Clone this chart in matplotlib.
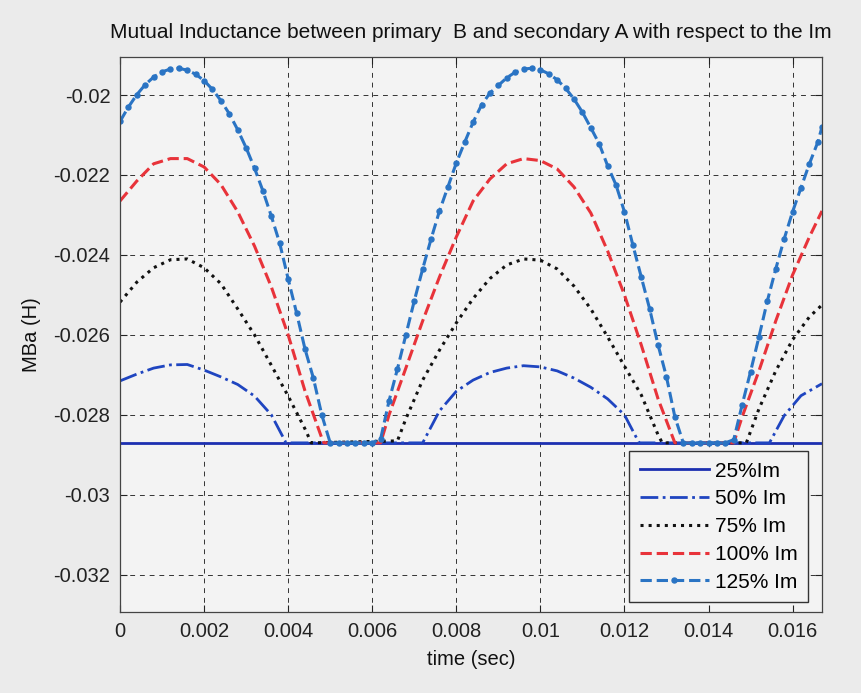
import matplotlib
matplotlib.use("Agg")
import matplotlib.pyplot as plt
from matplotlib.ticker import FixedLocator, FuncFormatter

# ---- data (time in s, inductance in H) ----
floor_level = -0.0287
t_25 = [0.0, 0.0167]
m_25 = [floor_level, floor_level]

t_50 = [0.0, 0.0004, 0.0008, 0.0012, 0.0016, 0.0020, 0.0024, 0.0028, 0.0032, 0.0036, 0.00395,
        0.0072, 0.0076, 0.0080, 0.0084, 0.0088, 0.0092, 0.0096, 0.0100, 0.0104, 0.0108, 0.0112,
        0.0116, 0.0120, 0.01235,
        0.01545, 0.0158, 0.0162, 0.0167]
m_50 = [-0.02715, -0.02698, -0.02683, -0.02675, -0.02674, -0.02688, -0.02705, -0.02724, -0.02753,
        -0.02800, -0.0287,
        -0.0287, -0.02790, -0.02741, -0.02713, -0.02694, -0.02683, -0.02677, -0.02680, -0.02690,
        -0.02708, -0.02731, -0.02760, -0.02800, -0.0287,
        -0.0287, -0.02802, -0.02752, -0.02722]

t_75 = [0.0, 0.0004, 0.0008, 0.0012, 0.0016, 0.0020, 0.0024, 0.0028, 0.0032, 0.0036, 0.0040,
        0.0044, 0.00455,
        0.0066, 0.0068, 0.0072, 0.0076, 0.0080, 0.0084, 0.0088, 0.0092, 0.0096, 0.0100, 0.0104,
        0.0108, 0.0112, 0.0116, 0.0120, 0.0124, 0.0128, 0.0129,
        0.0149, 0.0152, 0.0156, 0.0160, 0.0164, 0.0167]
m_75 = [-0.02518, -0.02468, -0.02432, -0.02412, -0.02410, -0.02432, -0.02472, -0.02535, -0.02600,
        -0.02676, -0.02753, -0.02835, -0.0287,
        -0.02865, -0.02810, -0.02713, -0.02638, -0.02570, -0.02509, -0.02459, -0.02425, -0.02410,
        -0.02413, -0.02435, -0.02478, -0.02535, -0.02605, -0.02678, -0.02750, -0.02850, -0.0287,
        -0.0287, -0.02785, -0.02690, -0.02612, -0.02555, -0.02525]

t_100 = [0.0, 0.0004, 0.0008, 0.0012, 0.0016, 0.0020, 0.0024, 0.0028, 0.0032, 0.0036, 0.0040,
         0.0044, 0.0048, 0.00485,
         0.0062, 0.0064, 0.0068, 0.0072, 0.0076, 0.0080, 0.0084, 0.0088, 0.0092, 0.0096, 0.0100,
         0.0104, 0.0108, 0.0112, 0.0116, 0.0120, 0.0124, 0.0128, 0.0132,
         0.0146, 0.0148, 0.0152, 0.0156, 0.0160, 0.0164, 0.0167]
m_100 = [-0.02265, -0.02215, -0.02172, -0.02159, -0.02159, -0.02180, -0.02224, -0.02292, -0.02378,
         -0.02480, -0.02600, -0.02740, -0.02858, -0.0287,
         -0.0287, -0.02800, -0.02683, -0.02565, -0.02455, -0.02355, -0.02265, -0.02210, -0.02172,
         -0.02159, -0.02164, -0.02185, -0.02230, -0.02295, -0.02390, -0.02500, -0.02625, -0.02760,
         -0.0287,
         -0.0287, -0.02805, -0.02690, -0.02565, -0.02450, -0.02355, -0.02290]

t_125 = [0.0, 0.0002, 0.0004, 0.0006, 0.0008, 0.0010, 0.0012, 0.0014, 0.0016, 0.0018, 0.0020,
         0.0022, 0.0024, 0.0026, 0.0028, 0.0030, 0.0032, 0.0034, 0.0036, 0.0038, 0.0040, 0.0042,
         0.0044, 0.0046, 0.0048, 0.0050, 0.0052, 0.0054, 0.0056, 0.0058, 0.0060, 0.0062, 0.0064,
         0.0066, 0.0068, 0.0070, 0.0072, 0.0074, 0.0076, 0.0078, 0.0080, 0.0082, 0.0084, 0.0086,
         0.0088, 0.0090, 0.0092, 0.0094, 0.0096, 0.0098, 0.0100, 0.0102, 0.0104, 0.0106, 0.0108,
         0.0110, 0.0112, 0.0114, 0.0116, 0.0118, 0.0120, 0.0122, 0.0124, 0.0126, 0.0128, 0.0130,
         0.0132, 0.0134, 0.0136, 0.0138, 0.0140, 0.0142, 0.0144, 0.0146, 0.0148, 0.0150, 0.0152,
         0.0154, 0.0156, 0.0158, 0.0160, 0.0162, 0.0164, 0.0166, 0.0167]
m_125 = [-0.02066, -0.02030, -0.01999, -0.01974, -0.01955, -0.01942, -0.01935, -0.01933, -0.01938,
         -0.01948, -0.01964, -0.01986, -0.02014, -0.02047, -0.02087, -0.02132, -0.02183, -0.02240,
         -0.02303, -0.02371, -0.02460, -0.02545, -0.02635, -0.02708, -0.02800, -0.0287, -0.0287,
         -0.0287, -0.0287, -0.0287, -0.0287, -0.02860, -0.02765, -0.02685, -0.02600, -0.02515,
         -0.02435, -0.02360, -0.02290, -0.02230, -0.02170, -0.02118, -0.02068, -0.02025, -0.01995,
         -0.01976, -0.01957, -0.01943, -0.01935, -0.01933, -0.01937, -0.01947, -0.01962, -0.01983,
         -0.02010, -0.02043, -0.02082, -0.02122, -0.02177, -0.02225, -0.02292, -0.02375, -0.02455,
         -0.02535, -0.02625, -0.02705, -0.02805, -0.0287, -0.0287, -0.0287, -0.0287, -0.0287,
         -0.0287, -0.02862, -0.02775, -0.02692, -0.02605, -0.02515, -0.02435, -0.02360, -0.02292,
         -0.02232, -0.02172, -0.02118, -0.02080]

x_ticks = [0, 0.002, 0.004, 0.006, 0.008, 0.01, 0.012, 0.014, 0.016]
y_ticks = [-0.032, -0.03, -0.028, -0.026, -0.024, -0.022, -0.02]
labels = ["25%Im", "50% Im", "75% Im", "100% Im", "125% Im"]

# ---- figure ----
plt.rcParams["font.family"] = ["Liberation Sans", "DejaVu Sans"]
fig = plt.figure(figsize=(8.61, 6.93), dpi=100, facecolor="#ebebeb")
ax = fig.add_axes([0.1394, 0.1169, 0.8153, 0.8008], facecolor="#f3f3f3")

ax.plot(t_25, m_25, "-", color="#1c2fb0", lw=2.0, label=labels[0])
ax.plot(t_50, m_50, "-.", color="#1f45c0", lw=2.0, label=labels[1])
ax.plot(t_75, m_75, ":", color="#111111", lw=2.2, label=labels[2])
ax.plot(t_100, m_100, "--", color="#e8333a", lw=2.2, label=labels[3])
ax.plot(t_125, m_125, "--", color="#2a74c4", lw=2.2, marker="o", ms=3.6,
        label=labels[4])

ax.set_xlim(0, 0.0167)
ax.set_ylim(-0.03293, -0.01905)
ax.xaxis.set_major_locator(FixedLocator(x_ticks))
ax.yaxis.set_major_locator(FixedLocator(y_ticks))
ax.xaxis.set_major_formatter(FuncFormatter(lambda v, p: f"{v:g}"))
ax.yaxis.set_major_formatter(FuncFormatter(lambda v, p: f"{v:g}"))
ax.tick_params(direction="in", top=True, right=True, length=5, width=0.8,
               labelsize=14.5, pad=7, colors="#222222")
ax.grid(True, color="#333333", lw=0.7, ls=(0, (5, 5)))
for s in ax.spines.values():
    s.set_color("#444444")
    s.set_linewidth(0.9)

ax.set_title("Mutual Inductance between primary  B and secondary A with respect to the Im",
             fontsize=15, pad=14, color="#111111")
ax.set_xlabel("time (sec)", fontsize=14.5, labelpad=7, color="#111111")
ax.set_ylabel("MBa (H)", fontsize=14.5, labelpad=9, color="#111111")

leg = ax.legend(loc="lower right", bbox_to_anchor=(0.980, 0.018), borderaxespad=0,
                fontsize=15, handlelength=3.3, handletextpad=0.3, labelspacing=0.42,
                fancybox=False, framealpha=1, facecolor="#f3f3f3",
                edgecolor="#333333", borderpad=0.5)
leg.get_frame().set_linewidth(1.0)

fig.savefig("out.png", dpi=100, facecolor=fig.get_facecolor())
